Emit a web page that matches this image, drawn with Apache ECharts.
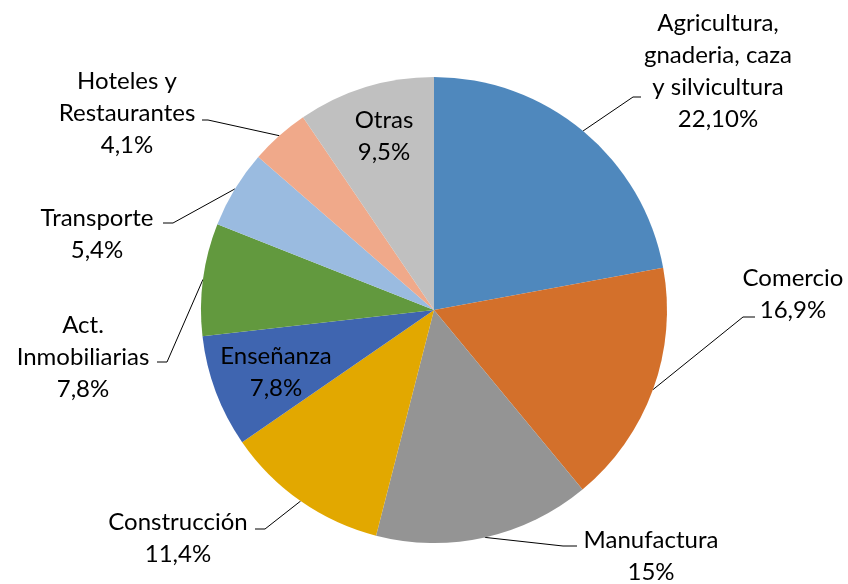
<!DOCTYPE html>
<html>
<head>
<meta charset="utf-8">
<script src="https://cdn.jsdelivr.net/npm/echarts@6/dist/echarts.min.js"></script>
<style>
  html, body { margin: 0; padding: 0; background: #fff; }
  #chart { width: 848px; height: 584px; }
</style>
</head>
<body>
<div id="chart"></div>
<script>
// datos del grafico
var sectores = [
  'Agricultura,\ngnaderia, caza\ny silvicultura',
  'Comercio',
  'Manufactura',
  'Construcción',
  'Enseñanza',
  'Act.\nInmobiliarias',
  'Transporte',
  'Hoteles y\nRestaurantes',
  'Otras'
]
var porcentajes = [22.1, 16.9, 15, 11.4, 7.8, 7.8, 5.4, 4.1, 9.5]
var etiquetas = ['22,10%', '16,9%', '15%', '11,4%', '7,8%', '7,8%', '5,4%', '4,1%', '9,5%']
var colores = ['#4f88bd', '#d3702b', '#949494', '#e2a800', '#3f65b0', '#62993e', '#9abbe0', '#f0a98a', '#c0c0c0']

// etiquetas dentro de la porcion
var dentro = [false, false, false, false, true, false, false, false, true]
// posicion del texto (centro) y codo de la linea guia
var posEtiqueta = [
  [718, 71], [793, 294], [651, 556], [178, 538], [276, 372],
  [83, 357], [97, 234], [127, 113], [384, 136]
]
var codos = [
  [[633, 97], [641, 97]],
  [[743, 317], [755, 317]],
  [[563, 546], [577, 546]],
  [[265, 529], [255, 529]],
  null,
  [[167, 362], [157, 362]],
  [[173, 223], [163, 223]],
  [[208, 120], [202, 120]],
  null
]

var chartDom = document.getElementById('chart')
var myChart = echarts.init(chartDom)

var datos = []
for (var i = 0; i < sectores.length; i++) {
  datos.push({
    name: sectores[i],
    value: porcentajes[i],
    itemStyle: { color: colores[i] },
    label: dentro[i] ? { position: 'inside' } : {},
    labelLine: { show: !dentro[i] }
  })
}

var option = {
  animation: false,
  series: [{
    type: 'pie',
    center: [434, 310],
    radius: 233,
    startAngle: 90,
    clockwise: true,
    avoidLabelOverlap: false,
    itemStyle: { borderWidth: 0 },
    emphasis: { disabled: true },
    label: {
      show: true,
      position: 'outside',
      color: '#000',
      fontFamily: 'Lato',
      fontSize: 24,
      lineHeight: 32,
      align: 'center',
      formatter: function (p) {
        return p.name + '\n' + etiquetas[p.dataIndex]
      }
    },
    labelLine: {
      show: true,
      length: 10,
      length2: 10,
      lineStyle: { color: '#000', width: 1 }
    },
    labelLayout: function (p) {
      var i = p.dataIndex
      var res = {
        x: posEtiqueta[i][0],
        y: posEtiqueta[i][1],
        align: 'center',
        verticalAlign: 'middle'
      }
      if (codos[i] && p.labelLinePoints) {
        res.labelLinePoints = [p.labelLinePoints[0], codos[i][0], codos[i][1]]
      }
      return res
    },
    data: datos
  }]
}
myChart.setOption(option)
</script>
</body>
</html>
